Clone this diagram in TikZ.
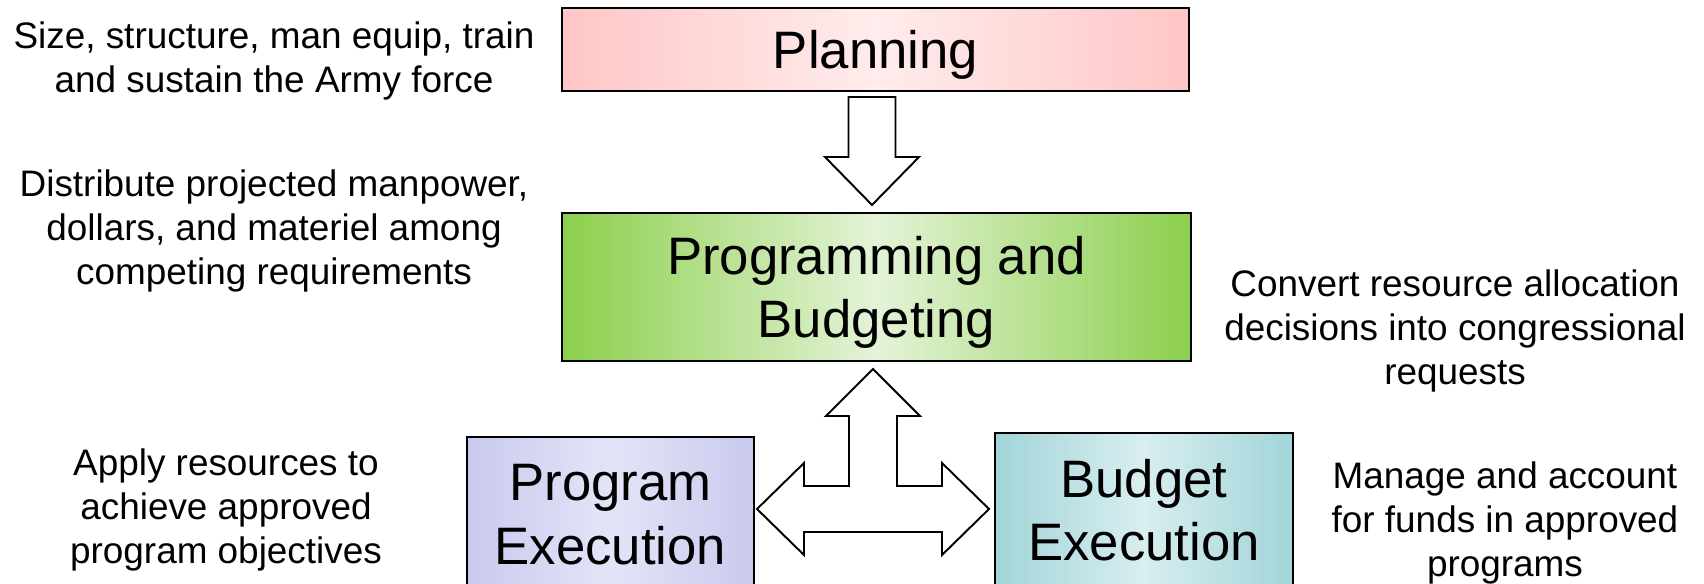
\documentclass[tikz,border=0pt]{standalone}
\usepackage{fontspec}
\setmainfont{Liberation Sans}
\usetikzlibrary{calc}

\definecolor{planedge}{HTML}{FFC6C6}
\definecolor{planmid}{HTML}{FFECEC}
\definecolor{progedge}{HTML}{8CCF4C}
\definecolor{progmid}{HTML}{E4F3D8}
\definecolor{pexedge}{HTML}{C9C9EE}
\definecolor{pexmid}{HTML}{E4E4F8}
\definecolor{bexedge}{HTML}{A2D4D8}
\definecolor{bexmid}{HTML}{D8EEF0}

\tikzset{
  stage/.style={draw, line width=1.2pt, align=center, inner sep=0pt,
    font=\fontsize{30}{36}\selectfont},
  note/.style={align=center, inner sep=0pt, font=\fontsize{21}{25.3}\selectfont},
  fatarrow/.style={draw, line width=1.1pt, fill=white, line join=miter},
}

\begin{document}
\begin{tikzpicture}[x=0.02cm, y=-0.02cm]
  \useasboundingbox (0,0) rectangle (1704,584);
  % boxes
  \node[stage, text depth=0pt, minimum width=12.54cm, minimum height=1.66cm,
    left color=planedge, right color=planedge, middle color=planmid] (plan) at (875.5,49.5) {Planning};
  \node[stage, text depth=0pt, minimum width=12.58cm, minimum height=2.96cm,
    left color=progedge, right color=progedge, middle color=progmid] (prog) at (876.5,287) {Programming and\\Budgeting};
  \node[stage, minimum width=5.74cm, minimum height=3.1cm,
    left color=pexedge, right color=pexedge, middle color=pexmid] (pexec) at (610.5,514.5) {Program\\Execution};
  \node[stage, minimum width=5.96cm, minimum height=3.1cm,
    left color=bexedge, right color=bexedge, middle color=bexmid] (bexec) at (1144,510.5) {Budget\\Execution};
  % notes
  \node[note] (nplan) at (274,61) {Size, structure, man equip, train\\and sustain the Army force};
  \node[note] (nprog) at (274,231) {Distribute projected manpower,\\dollars, and materiel among\\competing requirements};
  \node[note] (nbudg) at (1455,331) {Convert resource allocation\\decisions into congressional\\requests};
  \node[note] (npex) at (226,510) {Apply resources to\\achieve approved\\program objectives};
  \node[note] (nbex) at (1505,523) {Manage and account\\for funds in approved\\programs};
  % block arrows
  \draw[fatarrow] (848.5,97) -- (895.5,97) -- (895.5,157) -- (919,157) -- (872,205)
    -- (825,157) -- (848.5,157) -- cycle;
  \coordinate (hub) at (873,509);
  \draw[fatarrow] ($(hub)+(0,-140)$) -- ++(47,47) -- ++(-23,0) -- ++(0,70) -- ++(45,0)
    -- ++(0,-23) -- ++(47,46) -- ++(-47,46) -- ++(0,-23) -- ++(-138,0) -- ++(0,23)
    -- ++(-47,-46) -- ++(47,-46) -- ++(0,23) -- ++(45,0) -- ++(0,-70) -- ++(-23,0) -- cycle;
\end{tikzpicture}
\end{document}
